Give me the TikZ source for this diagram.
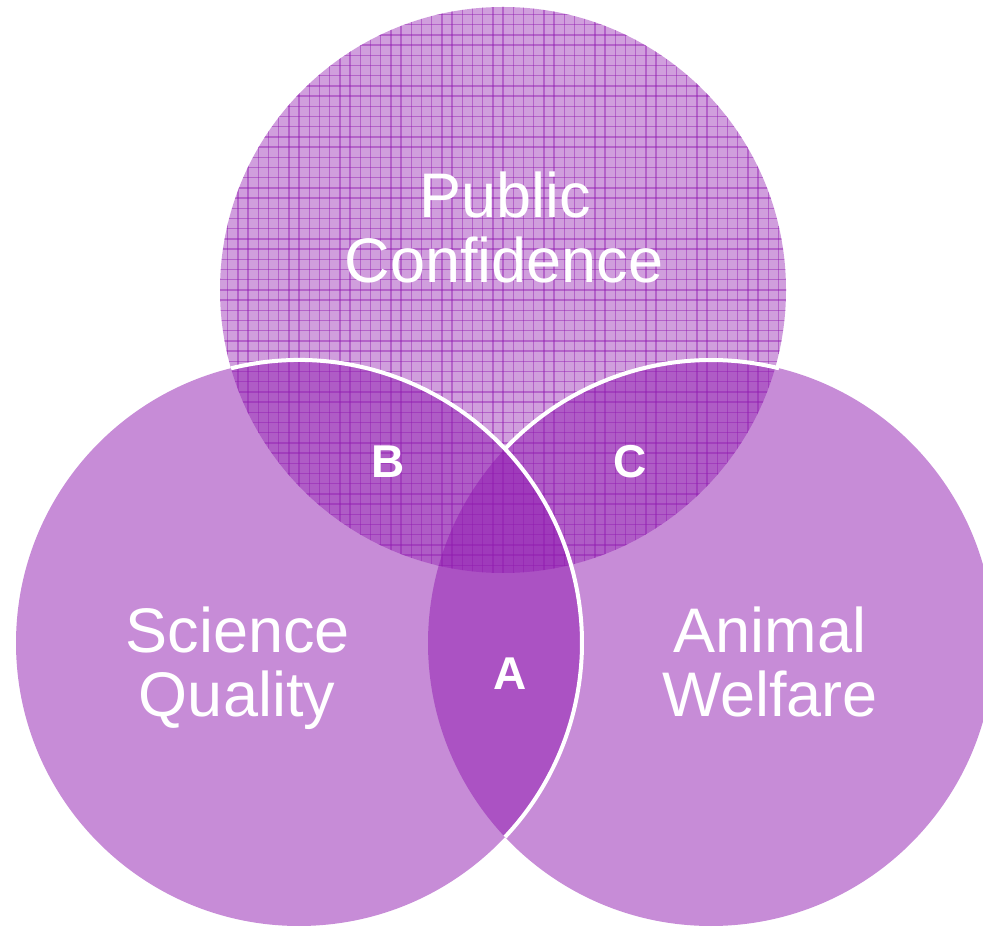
\documentclass[tikz,border=0pt]{standalone}
\usepackage{fontspec}
\setmainfont{Liberation Sans}
\definecolor{vpurple}{RGB}{143,25,175}
\begin{document}
\begin{tikzpicture}[x=1pt,y=1pt,
  lbl/.style={text=white, font=\fontsize{63}{65}\selectfont, anchor=base, inner sep=0pt},
  letter/.style={text=white, font=\bfseries\fontsize{46}{48}\selectfont, anchor=base, inner sep=0pt},
  ring/.style={white, line width=4pt},
  disc/.style={fill=vpurple, fill opacity=0.5},
  gridline/.style={draw=vpurple, draw opacity=0.45, line width=1.4pt}
]
\useasboundingbox (0,0) rectangle (983,927);
\coordinate (L) at (299,284);
\coordinate (R) at (711,284);
\coordinate (T) at (503,637);
\begin{scope}
  \clip (0,0) rectangle (983,927);
  \fill[disc] (L) circle[radius=283];
  \fill[disc] (R) circle[radius=283];
  \fill[vpurple, fill opacity=0.42] (T) circle[radius=283];
  \begin{scope}
    \clip (T) circle[radius=283];
    \foreach \i in {-29,...,29} {
      \draw[gridline] (503+\i*10.2, 340) -- (503+\i*10.2, 930);
      \draw[gridline] (210, 637+\i*10.2) -- (800, 637+\i*10.2);
    }
  \end{scope}
\end{scope}
\draw[ring] (L) ++(103.9:283) arc[start angle=103.9, end angle=-43.3, radius=283];
\draw[ring] (R) ++(136.7:283) arc[start angle=136.7, end angle=76.1, radius=283];
\node[lbl] (pc1) at (505,709) {Public};
\node[lbl] (pc2) at (504,644) {Confidence};
\node[lbl] (sq1) at (238,274) {Science};
\node[lbl] (sq2) at (237,210) {Quality};
\node[lbl] (aw1) at (770,274) {Animal};
\node[lbl] (aw2) at (770,210) {Welfare};
\node[letter] (b) at (388,449) {B};
\node[letter] (c) at (630,449) {C};
\node[letter] (a) at (510,237) {A};
\end{tikzpicture}
\end{document}
